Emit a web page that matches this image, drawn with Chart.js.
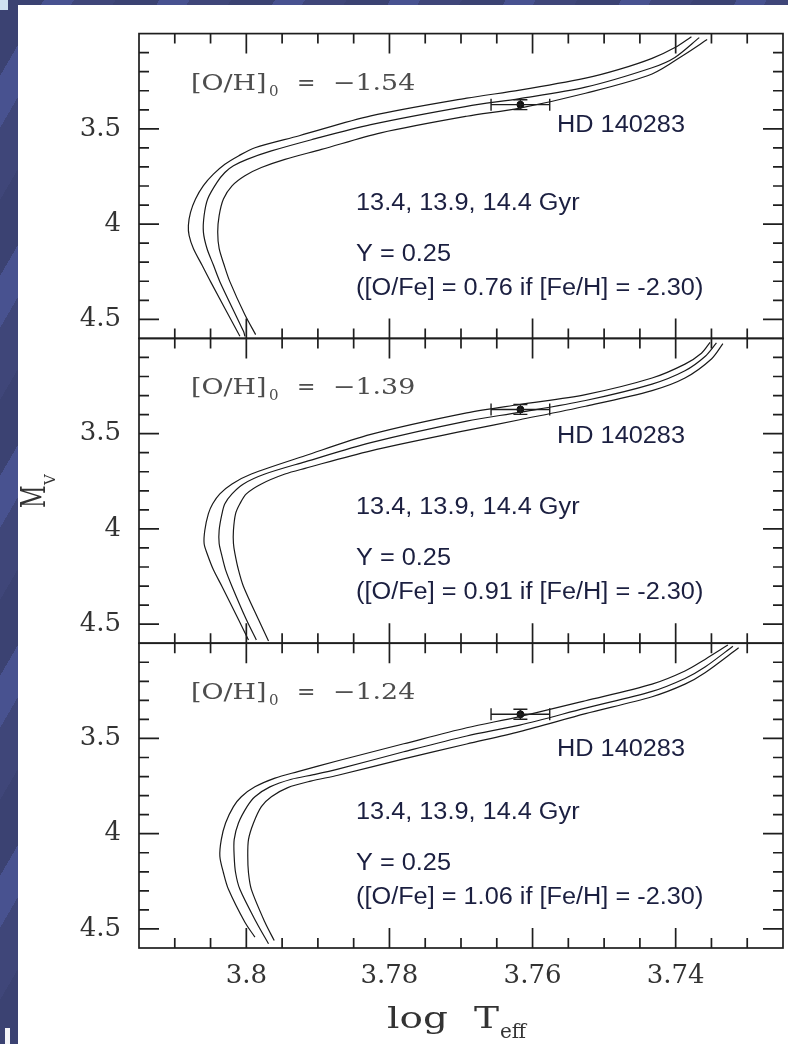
<!DOCTYPE html>
<html lang="en">
<head>
  <meta charset="UTF-8">
  <title>Isochrones vs HD 140283</title>
  <script src="https://cdn.jsdelivr.net/npm/chart.js"></script>
  <style>
    body { margin: 0; width: 788px; height: 1044px; position: relative; overflow: hidden;
           background: repeating-linear-gradient(120deg, #3b4272 0 38px, #485290 38px 64px, #3f4679 64px 100px); }
    .sheet { position: absolute; left: 18px; top: 5px; right: 0; bottom: 0; background: #fff; }
    .corner { position: absolute; left: 0; top: 0; width: 8px; height: 10px; background: #cfe0f2; }
    .foot { position: absolute; left: 5px; top: 1028px; width: 5px; height: 16px; background: #f4f4f8; }
    canvas { position: absolute; left: 0; top: 0; }
  </style>
  <script>
    // three panels, one per initial [O/H]
    const panelIds = ['y1', 'y2', 'y3'];
    const ohValues = ['\u22121.54', '\u22121.39', '\u22121.24'];
    const ofeValues = ['0.76', '0.91', '1.06'];
    const ageLabel = '13.4, 13.9, 14.4 Gyr';
    const heliumLabel = 'Y = 0.25';

    const xTickLabels = [3.8, 3.78, 3.76, 3.74];
    const yTickLabels = [3.5, 4, 4.5];

    // HD 140283 (log Teff, Mv) with errors
    const starLogT = 3.7617;
    const starLogTErr = 0.0041;
    const starMv = 3.373;
    const starMvErr = 0.026;

    // isochrones: [log Teff, Mv], 13.4 / 13.9 / 14.4 Gyr
    const iso1Young = [[3.8009,4.589],[3.8050,4.302],[3.8062,4.215],[3.8074,4.128],[3.8080,4.059],[3.8081,4.007],[3.8078,3.938],[3.8071,3.868],[3.8060,3.798],[3.8046,3.738],[3.8030,3.686],[3.8011,3.642],[3.7988,3.599],[3.7926,3.536],[3.7826,3.432],[3.7692,3.339],[3.7618,3.297],[3.7526,3.234],[3.7479,3.188],[3.7433,3.130],[3.7401,3.073],[3.7378,3.016]];
    const iso1Mid = [[3.8002,4.589],[3.8004,4.563],[3.8037,4.302],[3.8046,4.215],[3.8055,4.128],[3.8060,4.042],[3.8059,3.955],[3.8054,3.868],[3.8041,3.781],[3.8030,3.729],[3.8018,3.694],[3.7999,3.660],[3.7965,3.616],[3.7909,3.557],[3.7826,3.478],[3.7692,3.382],[3.7618,3.341],[3.7526,3.281],[3.7433,3.179],[3.7401,3.125],[3.7367,3.021]];
    const iso1Old = [[3.7987,4.580],[3.8002,4.476],[3.8023,4.302],[3.8031,4.215],[3.8038,4.128],[3.8040,4.042],[3.8038,3.955],[3.8032,3.868],[3.8020,3.799],[3.8002,3.746],[3.7979,3.703],[3.7946,3.660],[3.7895,3.608],[3.7812,3.521],[3.7692,3.434],[3.7618,3.391],[3.7526,3.313],[3.7433,3.212],[3.7387,3.108],[3.7356,3.031]];

    const iso2Young = [[3.7997,4.583],[3.8011,4.476],[3.8034,4.302],[3.8046,4.215],[3.8055,4.128],[3.8059,4.077],[3.8058,4.007],[3.8053,3.920],[3.8047,3.868],[3.8037,3.816],[3.8020,3.764],[3.7993,3.712],[3.7918,3.616],[3.7826,3.504],[3.7692,3.391],[3.7618,3.347],[3.7526,3.295],[3.7433,3.208],[3.7387,3.135],[3.7364,3.078],[3.7352,3.021]];
    const iso2Mid = [[3.7986,4.583],[3.8000,4.476],[3.8020,4.302],[3.8029,4.215],[3.8035,4.128],[3.8038,4.077],[3.8038,4.007],[3.8034,3.920],[3.8030,3.868],[3.8020,3.816],[3.8004,3.764],[3.7974,3.712],[3.7918,3.648],[3.7826,3.547],[3.7692,3.434],[3.7618,3.388],[3.7526,3.326],[3.7433,3.240],[3.7387,3.170],[3.7359,3.095],[3.7343,3.024]];
    const iso2Old = [[3.7969,4.589],[3.7983,4.476],[3.8004,4.302],[3.8011,4.215],[3.8016,4.128],[3.8018,4.077],[3.8018,4.007],[3.8015,3.920],[3.8009,3.868],[3.8000,3.816],[3.7979,3.764],[3.7946,3.712],[3.7918,3.682],[3.7826,3.590],[3.7692,3.483],[3.7618,3.427],[3.7526,3.356],[3.7433,3.274],[3.7387,3.208],[3.7350,3.108],[3.7334,3.028]];

    const iso3Young = [[3.7988,4.543],[3.8002,4.465],[3.8025,4.292],[3.8032,4.205],[3.8037,4.118],[3.8035,4.031],[3.8029,3.944],[3.8018,3.858],[3.8007,3.806],[3.7988,3.754],[3.7960,3.708],[3.7928,3.674],[3.7872,3.617],[3.7780,3.528],[3.7692,3.444],[3.7618,3.385],[3.7526,3.302],[3.7433,3.215],[3.7387,3.146],[3.7359,3.085],[3.7327,3.010]];
    const iso3Mid = [[3.7969,4.578],[3.7986,4.465],[3.8009,4.292],[3.8015,4.205],[3.8017,4.118],[3.8017,4.031],[3.8011,3.944],[3.7999,3.858],[3.7988,3.806],[3.7967,3.754],[3.7937,3.714],[3.7906,3.690],[3.7872,3.661],[3.7780,3.570],[3.7692,3.487],[3.7618,3.430],[3.7526,3.341],[3.7433,3.253],[3.7387,3.185],[3.7359,3.125],[3.7320,3.016]];
    const iso3Old = [[3.7961,4.561],[3.7974,4.465],[3.7993,4.292],[3.7997,4.205],[3.7998,4.118],[3.7997,4.031],[3.7990,3.944],[3.7979,3.858],[3.7965,3.806],[3.7942,3.758],[3.7910,3.724],[3.7872,3.693],[3.7780,3.607],[3.7692,3.529],[3.7618,3.464],[3.7526,3.370],[3.7433,3.281],[3.7387,3.215],[3.7359,3.155],[3.7312,3.024]];

    const isochrones = [
      [iso1Young, iso1Mid, iso1Old],
      [iso2Young, iso2Mid, iso2Old],
      [iso3Young, iso3Mid, iso3Old]
    ];

    const hdLabelDrop = [98, 105, 113];

    function stretchText(ctx, txt, x, y, font, color, sx) {
      ctx.save();
      ctx.font = font;
      ctx.fillStyle = color;
      ctx.textAlign = 'left';
      ctx.textBaseline = 'alphabetic';
      ctx.translate(x, y);
      ctx.scale(sx, 1);
      ctx.fillText(txt, 0, 0);
      ctx.restore();
    }

    const panelPlugin = {
      id: 'panels',
      beforeDatasetDraw(chart, args) {
        const ys = chart.scales[args.meta.yAxisID];
        const a = chart.chartArea;
        const ctx = chart.ctx;
        ctx.save();
        ctx.beginPath();
        ctx.rect(a.left, ys.top, a.right - a.left, ys.bottom - ys.top);
        ctx.clip();
      },
      afterDatasetDraw(chart) {
        chart.ctx.restore();
      },
      afterDatasetsDraw(chart) {
        const ctx = chart.ctx;
        const a = chart.chartArea;
        const xs = chart.scales.x;
        ctx.save();
        ctx.strokeStyle = '#1e1e1e';
        ctx.lineWidth = 1.7;
        panelIds.forEach(id => {
          const ys = chart.scales[id];
          ctx.strokeRect(a.left, ys.top, a.right - a.left, ys.bottom - ys.top);
          ctx.beginPath();
          for (let i = 31; i <= 45; i++) {
            const y = ys.getPixelForValue(i / 10);
            const len = i % 5 === 0 ? 20 : 10;
            ctx.moveTo(a.left, y); ctx.lineTo(a.left + len, y);
            ctx.moveTo(a.right, y); ctx.lineTo(a.right - len, y);
          }
          for (let i = 3730; i <= 3810; i += 5) {
            const x = xs.getPixelForValue(i / 1000);
            const len = i % 20 === 0 ? 20 : 10;
            ctx.moveTo(x, ys.top); ctx.lineTo(x, ys.top + len);
            ctx.moveTo(x, ys.bottom); ctx.lineTo(x, ys.bottom - len);
          }
          ctx.stroke();

          // error bars of HD 140283
          const x0 = xs.getPixelForValue(starLogT + starLogTErr);
          const x1 = xs.getPixelForValue(starLogT - starLogTErr);
          const xc = xs.getPixelForValue(starLogT);
          const yc = ys.getPixelForValue(starMv);
          const y0 = ys.getPixelForValue(starMv - starMvErr);
          const y1 = ys.getPixelForValue(starMv + starMvErr);
          ctx.lineWidth = 1.4;
          ctx.beginPath();
          ctx.moveTo(x0, yc); ctx.lineTo(x1, yc);
          ctx.moveTo(x0, yc - 6); ctx.lineTo(x0, yc + 6);
          ctx.moveTo(x1, yc - 6); ctx.lineTo(x1, yc + 6);
          ctx.moveTo(xc, y0); ctx.lineTo(xc, y1);
          ctx.moveTo(xc - 7, y0); ctx.lineTo(xc + 7, y0);
          ctx.moveTo(xc - 7, y1); ctx.lineTo(xc + 7, y1);
          ctx.stroke();
          ctx.lineWidth = 1.7;
        });
        ctx.restore();
      },
      afterDraw(chart) {
        const ctx = chart.ctx;
        const a = chart.chartArea;
        const serif = 'DejaVu Serif';
        const sans = '"Liberation Sans", Arial, sans-serif';
        panelIds.forEach((id, p) => {
          const top = chart.scales[id].top;
          const ox = a.left + 52;
          stretchText(ctx, '[O/H]', ox, top + 56, '22px ' + serif, '#4d4d4d', 1.22);
          stretchText(ctx, '0', ox + 78, top + 62, '15px ' + serif, '#4d4d4d', 1.0);
          stretchText(ctx, '=', ox + 106, top + 56, '22px ' + serif, '#4d4d4d', 1.0);
          stretchText(ctx, ohValues[p], ox + 142, top + 56, '22px ' + serif, '#4d4d4d', 1.22);

          const tx = a.left + 217;
          stretchText(ctx, 'HD 140283', a.left + 418, top + hdLabelDrop[p], '23px ' + sans, '#1b1f40', 1.1);
          stretchText(ctx, ageLabel, tx, top + 176, '23px ' + sans, '#1b1f40', 1.1);
          stretchText(ctx, heliumLabel, tx, top + 227, '23px ' + sans, '#1b1f40', 1.1);
          stretchText(ctx, '([O/Fe] = ' + ofeValues[p] + ' if [Fe/H] = -2.30)', tx, top + 261, '23px ' + sans, '#1b1f40', 1.1);
        });

        // axis titles
        stretchText(ctx, 'log', 387, 1028, '30px ' + serif, '#333', 1.3);
        stretchText(ctx, 'T', 474, 1028, '30px ' + serif, '#333', 1.25);
        stretchText(ctx, 'eff', 500, 1038, '20px ' + serif, '#333', 1.0);

        ctx.save();
        ctx.fillStyle = '#333';
        ctx.translate(45, 508);
        ctx.rotate(-Math.PI / 2);
        ctx.save();
        ctx.scale(0.65, 1);
        ctx.font = '34px ' + serif;
        ctx.fillText('M', 0, 0);
        ctx.restore();
        ctx.font = '15px ' + serif;
        ctx.fillText('V', 23, 10);
        ctx.restore();
      }
    };

    function panelScale(weight) {
      return {
        type: 'linear',
        position: 'left',
        stack: 'mv',
        stackWeight: 1,
        weight: weight,
        reverse: true,
        min: 3.0,
        max: 4.6,
        grid: { display: false, drawTicks: false },
        border: { display: false },
        ticks: {
          font: { family: 'DejaVu Serif', size: 26 },
          color: '#333',
          padding: 18,
          autoSkip: false,
          callback: v => String(v)
        },
        afterBuildTicks: s => { s.ticks = yTickLabels.map(v => ({ value: v })); },
        afterFit: s => { s.width = 139; }
      };
    }

    window.onload = function () {
      const datasets = [];
      isochrones.forEach((set, p) => {
        set.forEach(curve => {
          datasets.push({
            data: curve.map(pt => ({ x: pt[0], y: pt[1] })),
            yAxisID: panelIds[p],
            showLine: true,
            pointRadius: 0,
            borderColor: '#1a1a1a',
            borderWidth: 1.2,
            tension: 0.3,
            fill: false
          });
        });
        datasets.push({
          data: [{ x: starLogT, y: starMv }],
          yAxisID: panelIds[p],
          pointRadius: 3.5,
          pointStyle: 'circle',
          backgroundColor: '#111',
          borderColor: '#111'
        });
      });

      new Chart(document.getElementById('c'), {
        type: 'scatter',
        data: { datasets: datasets },
        options: {
          responsive: false,
          devicePixelRatio: 1,
          animation: false,
          layout: { padding: { top: 28, right: 3, left: 0, bottom: 0 } },
          plugins: { legend: { display: false }, tooltip: { enabled: false } },
          scales: {
            x: {
              type: 'linear',
              position: 'bottom',
              reverse: true,
              min: 3.725,
              max: 3.815,
              grid: { display: false, drawTicks: false },
              border: { display: false },
              ticks: {
                font: { family: 'DejaVu Serif', size: 26 },
                color: '#333',
                padding: 13,
                maxRotation: 0,
                autoSkip: false,
                callback: v => String(v)
              },
              afterBuildTicks: s => { s.ticks = xTickLabels.map(v => ({ value: v })); },
              afterFit: s => { s.height = 96; }
            },
            y1: panelScale(3),
            y2: panelScale(2),
            y3: panelScale(1)
          }
        },
        plugins: [panelPlugin]
      });
    };
  </script>
</head>
<body>
  <div class="sheet"></div>
  <div class="corner"></div>
  <div class="foot"></div>
  <canvas id="c" width="788" height="1044"></canvas>
</body>
</html>
